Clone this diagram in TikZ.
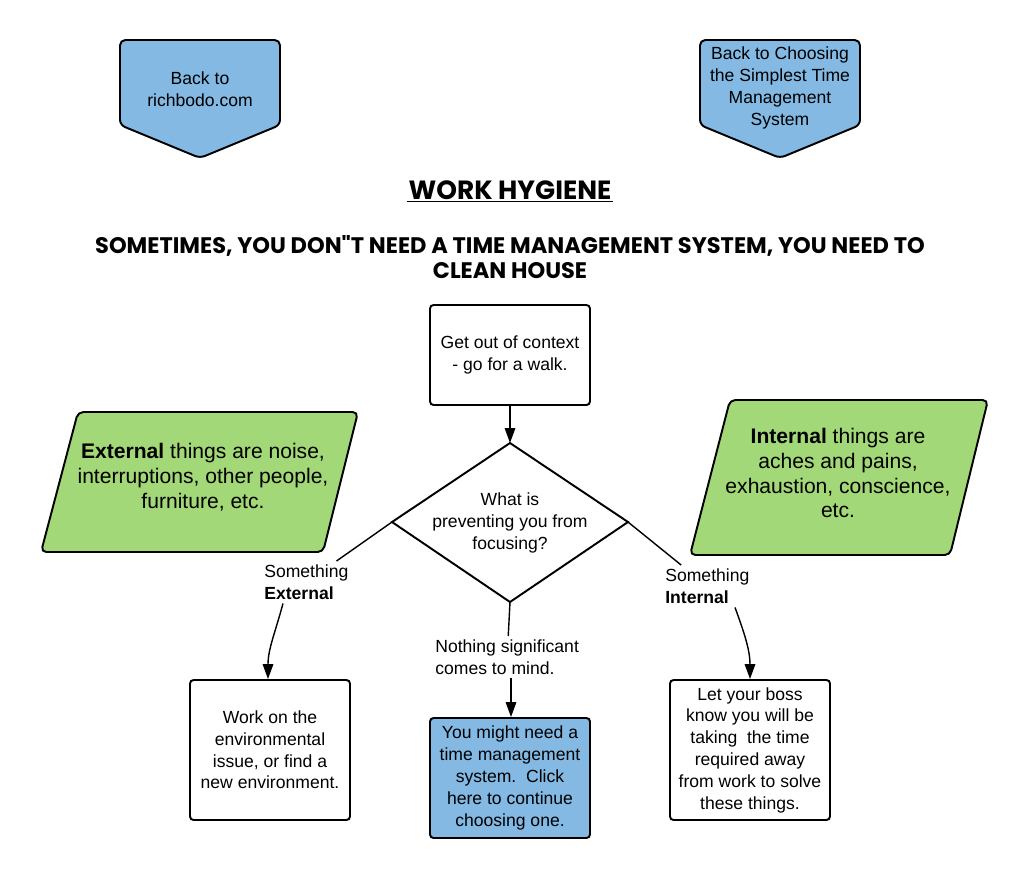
\documentclass[tikz,border=0pt]{standalone}
\usepackage{fontspec}
\setmainfont{Liberation Sans}
\newfontfamily\comicfont{Poppins}
\usetikzlibrary{arrows.meta,calc}
\definecolor{tabblue}{RGB}{131,185,227}
\definecolor{notegreen}{RGB}{163,216,120}
\begin{document}
\begin{tikzpicture}[x=0.02cm,y=-0.02cm,
	box/.style={draw,line width=1.1pt,rounded corners=2pt,align=center,minimum width=3.2cm,
		font=\fontsize{10}{12.4}\selectfont},
	outline/.style={draw,line width=1.1pt,rounded corners=3pt},
	note/.style={align=center,font=\fontsize{12}{14.2}\selectfont},
	lbl/.style={align=left,inner xsep=0pt,inner ysep=2pt,anchor=north west,font=\fontsize{10}{12.4}\selectfont},
	conn/.style={line width=0.8pt},
	arr/.style={line width=0.8pt,-{Triangle[length=8.5pt,width=6pt]}}]
	\useasboundingbox (0,0) rectangle (1030,880);
	\draw[outline,fill=tabblue] (120,40) -- (280,40) -- (280,125) -- (200,158) -- (120,125) -- cycle;
	\draw[outline,fill=tabblue] (700,40) -- (860,40) -- (860,125) -- (780,158) -- (700,125) -- cycle;
	\node[note,font=\fontsize{10}{12.4}\selectfont] (home) at (200,89) {Back to\\richbodo.com};
	\node[note,font=\fontsize{10}{12.4}\selectfont] (simple) at (780,88) {Back to Choosing\\the Simplest Time\\Management\\System};
	\node[font=\comicfont\bfseries\fontsize{15}{18}\selectfont,inner sep=1pt] (title) at (510,190) {WORK HYGIENE};
	\draw[conn] (title.south west) -- (title.south east);
	\node[align=center,font=\comicfont\bfseries\fontsize{12.8}{14.5}\selectfont] (sub) at (510,257)
		{SOMETIMES, YOU DON"T NEED A TIME MANAGEMENT SYSTEM, YOU NEED TO\\CLEAN HOUSE};
	\draw[outline,fill=notegreen] (78,412) -- (358,412) -- (323,552) -- (41,552) -- cycle;
	\draw[outline,fill=notegreen] (730,400) -- (988,400) -- (950,555) -- (690,555) -- cycle;
	\node[note] (ext) at (203,477) {\textbf{External} things are noise,\\interruptions, other people,\\furniture, etc.};
	\node[note] (int) at (838,473) {\textbf{Internal} things are\\aches and pains,\\exhaustion, conscience,\\etc.};
	\node[box,minimum height=2cm] (ctx) at (510,355) {Get out of context\\- go for a walk.};
	\coordinate (qt) at (510,443);
	\coordinate (qr) at (628,522);
	\coordinate (qb) at (510,602);
	\coordinate (ql) at (392,522);
	\draw[line width=1.1pt] (qt) -- (qr) -- (qb) -- (ql) -- cycle;
	\node[align=center,font=\fontsize{10}{12.4}\selectfont] (q) at (510,523) {What is\\preventing you from\\focusing?};
	\draw[arr] (ctx) -- (qt);
	\node[lbl] (lext) at (264,561) {Something\\\textbf{External}};
	\node[lbl] (lnot) at (435,636) {Nothing significant\\comes to mind.};
	\node[lbl] (lint) at (665,565) {Something\\\textbf{Internal}};
	\node[box,minimum height=2.8cm] (env) at (270,750) {Work on the\\environmental\\issue, or find a\\new environment.};
	\node[box,minimum height=2.4cm,fill=tabblue] (more) at (510,778) {You might need a\\time management\\system.\ \ Click\\here to continue\\choosing one.};
	\node[box,minimum height=2.8cm] (boss) at (750,750) {Let your boss\\know you will be\\taking\ \ the time\\required away\\from work to solve\\these things.};
	\draw[conn] (ql) -- (lext);
	\draw[conn] (qb) -- (lnot);
	\draw[conn] (qr) -- (lint);
	\draw[arr] (lext.south -| 283,0) to[out=-105,in=90] (env.north -| 268,0);
	\draw[arr] (lnot.south -| 511,0) -- (more.north -| 511,0);
	\draw[arr] (lint.south -| 735,0) to[out=-70,in=90] (boss.north);
\end{tikzpicture}
\end{document}
